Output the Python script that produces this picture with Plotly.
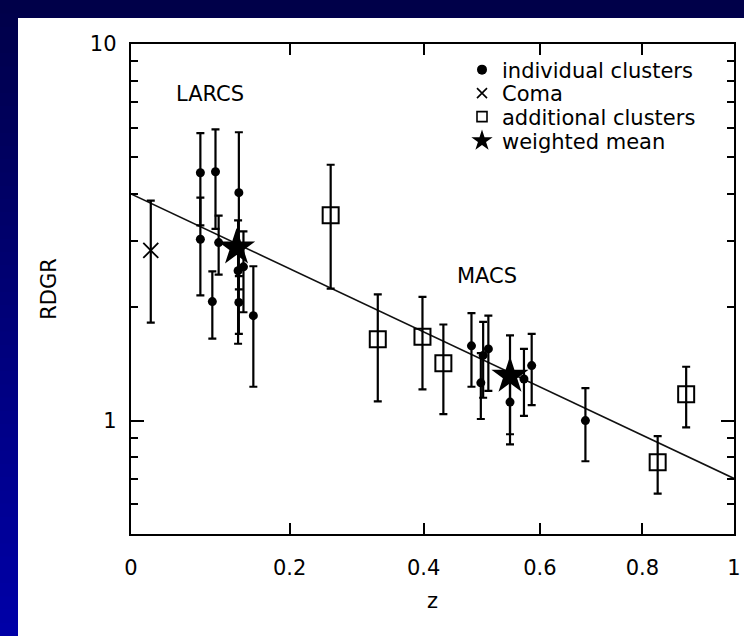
import numpy as np
import plotly.graph_objects as go

# ---------------- data ----------------
ind_z = [0.083, 0.083, 0.102, 0.106, 0.098, 0.132, 0.131, 0.132, 0.138, 0.151,
         0.479, 0.495, 0.499, 0.508, 0.546, 0.571, 0.585, 0.686]
ind_rdgr = [4.55, 3.03, 4.58, 2.97, 2.07, 4.03, 2.50, 2.06, 2.56, 1.90,
            1.58, 1.26, 1.49, 1.55, 1.12, 1.29, 1.40, 1.00]
ind_err = [1.25, 0.88, 1.35, 0.53, 0.42, 1.80, 0.90, 0.36, 0.62, 0.67,
           0.35, 0.25, 0.34, 0.35, 0.20, 0.26, 0.30, 0.22]

coma_z = [0.023]
coma_rdgr = [2.83]
coma_err = [1.01]

add_z = [0.258, 0.328, 0.398, 0.432, 0.832, 0.893]
add_rdgr = [3.51, 1.645, 1.67, 1.42, 0.775, 1.175]
add_err = [1.27, 0.52, 0.46, 0.38, 0.135, 0.215]

mean_z = [0.129, 0.546]
mean_rdgr = [2.88, 1.315]
mean_err_plus = [0.0, 0.37]
mean_err_minus = [0.0, 0.45]

fit_norm = 4.0      # RDGR at z = 0
fit_slope = -2.51   # RDGR ∝ (1+z)^slope
fit_z = [0.0, 1.0]

x_tick_z = [0, 0.2, 0.4, 0.6, 0.8, 1]
x_tick_text = ["0", "0.2", "0.4", "0.6", "0.8", "1"]
y_major = [1, 10]
y_minor = [0.5, 0.6, 0.7, 0.8, 0.9, 2, 3, 4, 5, 6, 7, 8, 9]

labels = [("LARCS", 0.095, 7.35), ("MACS", 0.505, 2.42)]

# ---------------- layout geometry ----------------
W, H = 744, 636
ML, MR, MT, MB = 131, 10, 44, 102
PW, PH = W - ML - MR, H - MT - MB
FONT = "DejaVu Sans"


def px2x(px):
    return (px - ML) / PW


def px2y(py):
    return (H - MB - py) / PH


def onepz(z):
    return [1 + v for v in z]


fig = go.Figure()

# fit line
fit_y = [fit_norm * (1 + z) ** fit_slope for z in fit_z]
fig.add_trace(go.Scatter(x=onepz(fit_z), y=fit_y, mode="lines",
                         line=dict(color="#111", width=1.6), showlegend=False,
                         hoverinfo="skip"))

eb = dict(type="data", color="black", thickness=2.2, width=4)

fig.add_trace(go.Scatter(x=onepz(coma_z), y=coma_rdgr, mode="markers",
                         error_y=dict(array=coma_err, **eb),
                         marker=dict(symbol="x-thin", size=15, color="black",
                                     line=dict(width=1.8, color="black")),
                         showlegend=False))
fig.add_trace(go.Scatter(x=onepz(add_z), y=add_rdgr, mode="markers",
                         error_y=dict(array=add_err, **eb),
                         marker=dict(symbol="square-open", size=16, color="black",
                                     line=dict(width=2, color="black")),
                         showlegend=False))
fig.add_trace(go.Scatter(x=onepz(ind_z), y=ind_rdgr, mode="markers",
                         error_y=dict(array=ind_err, **eb),
                         marker=dict(symbol="circle", size=9, color="black"),
                         showlegend=False))
fig.add_trace(go.Scatter(x=onepz(mean_z), y=mean_rdgr, mode="markers",
                         error_y=dict(array=mean_err_plus, arrayminus=mean_err_minus,
                                      symmetric=False, **eb),
                         marker=dict(symbol="star", size=28, color="black"),
                         showlegend=False))

# legend entries (one legend per entry to match the tight spacing)
leg_items = [
    ("individual clusters", dict(symbol="circle", size=10, color="black")),
    ("Coma", dict(symbol="x-thin", size=10, color="black",
                  line=dict(width=1.6, color="black"))),
    ("additional clusters", dict(symbol="square-open", size=10, color="black",
                                 line=dict(width=1.6, color="black"))),
    ("weighted mean", dict(symbol="star", size=16, color="black")),
]
leg_centers = [70, 93.5, 117, 141]
leg_names = ["legend", "legend2", "legend3", "legend4"]
for (name, mk), lg in zip(leg_items, leg_names):
    fig.add_trace(go.Scatter(x=[None], y=[None], mode="markers", name=name,
                             marker=mk, legend=lg, showlegend=True))

legend_layout = {}
for lg, cy in zip(leg_names, leg_centers):
    legend_layout[lg] = dict(x=px2x(462), y=px2y(cy), xanchor="left",
                             yanchor="middle", bgcolor="rgba(0,0,0,0)",
                             borderwidth=0, font=dict(family=FONT, size=21,
                                                      color="black"),
                             itemwidth=30)

# background: blue gradient + white panel
shapes = []
nb = 48
c0 = np.array([0x00, 0x00, 0x48])
c1 = np.array([0x00, 0x00, 0xa8])
for i in range(nb):
    t = (i + 0.5) / nb
    c = (c0 + (c1 - c0) * t).astype(int)
    y_top = H * i / nb
    y_bot = H * (i + 1) / nb + 1
    shapes.append(dict(type="rect", xref="paper", yref="paper", layer="below",
                       x0=px2x(0), x1=px2x(W), y0=px2y(y_bot), y1=px2y(y_top),
                       line=dict(width=0),
                       fillcolor=f"rgb({c[0]},{c[1]},{c[2]})"))
shapes.append(dict(type="rect", xref="paper", yref="paper", layer="below",
                   x0=px2x(18), x1=px2x(W + 2), y0=px2y(H + 2), y1=px2y(18),
                   line=dict(width=0), fillcolor="white"))

annotations = [dict(x=np.log10(1 + z), y=np.log10(v), xref="x", yref="y",
                    text=t, showarrow=False,
                    font=dict(family=FONT, size=21, color="black"))
               for t, z, v in labels]

fig.update_layout(
    width=W, height=H,
    margin=dict(l=ML, r=MR, t=MT, b=MB, autoexpand=False),
    paper_bgcolor="#000048", plot_bgcolor="white",
    font=dict(family=FONT, color="black"),
    shapes=shapes, annotations=annotations,
    **legend_layout,
)

fig.update_xaxes(
    type="log", range=[0, np.log10(2)],
    tickvals=onepz(x_tick_z), ticktext=x_tick_text,
    ticks="inside", ticklen=11, tickwidth=2, tickcolor="black",
    showline=True, linecolor="black", linewidth=2.4, mirror="ticks",
    showgrid=False, zeroline=False, automargin=False,
    tickfont=dict(family=FONT, size=21, color="black"),
    ticklabelstandoff=14,
    title=dict(text="z", font=dict(family=FONT, size=21, color="black"),
               standoff=14),
)
fig.update_yaxes(
    type="log", range=[np.log10(0.5), 1],
    tickvals=y_major, ticktext=[str(v) for v in y_major],
    ticks="inside", ticklen=13, tickwidth=2, tickcolor="black",
    minor=dict(tickvals=y_minor, ticks="inside", ticklen=7, tickwidth=2,
               tickcolor="black", showgrid=False),
    showline=True, linecolor="black", linewidth=2.4, mirror="ticks",
    showgrid=False, zeroline=False, automargin=False,
    tickfont=dict(family=FONT, size=21, color="black"),
    ticklabelstandoff=8,
    title=dict(text="RDGR", font=dict(family=FONT, size=21, color="black"),
               standoff=28),
)

fig.write_html("out.html")
